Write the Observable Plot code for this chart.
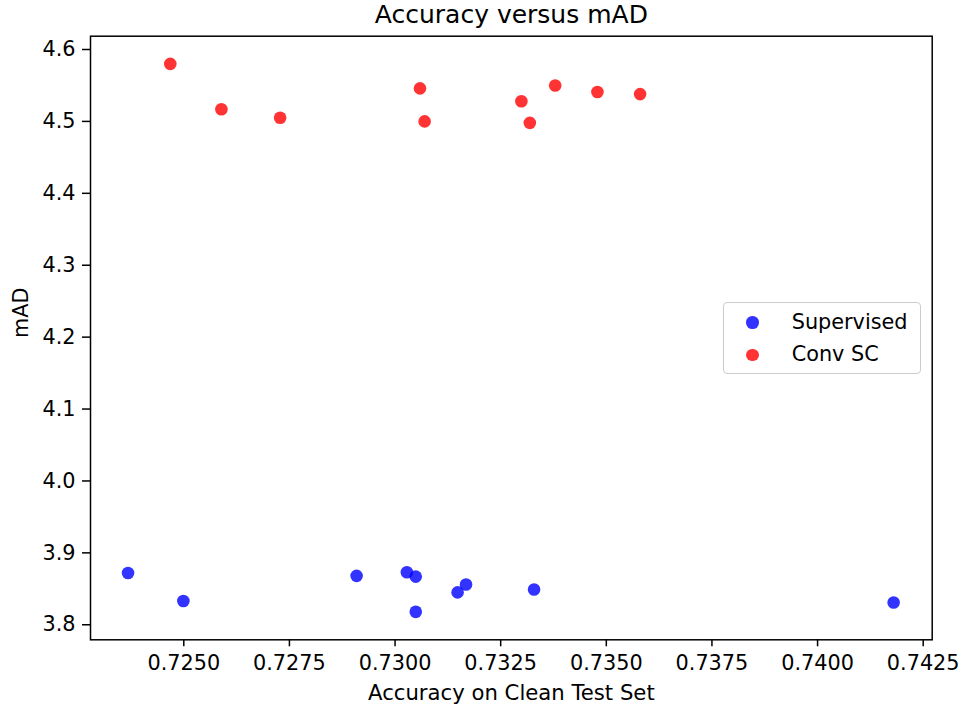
<!DOCTYPE html>
<html>
<head>
<meta charset="utf-8">
<script src="https://cdn.jsdelivr.net/npm/d3@7"></script>
<script src="https://cdn.jsdelivr.net/npm/@observablehq/plot@0.6"></script>
<style>
  body { margin: 0; background: #fff; font-family: "DejaVu Sans", sans-serif; }
  #wrap { position: relative; width: 964px; height: 707px; }
  #legend {
    position: absolute; left: 722.7px; top: 301.7px; width: 196px; height: 70.6px;
    border: 1px solid #cccccc; border-radius: 4px; background: rgba(255,255,255,0.8);
    font-family: "DejaVu Sans", sans-serif; font-size: 20.8px; color: #000;
  }
  .item { position: absolute; left: 0; height: 0; }
  .sw { position: absolute; left: 22.7px; width: 12.6px; height: 12.6px; border-radius: 50%; top: -6.3px; }
  .lab { position: absolute; left: 68px; top: -12.5px; white-space: nowrap; line-height: 25px; }
</style>
</head>
<body>
<div id="wrap"></div>
<script>
// Data
const seriesNames = ["Supervised", "Conv SC"];
const seriesColors = ["blue", "red"];
const supX = [0.72368, 0.72499, 0.72909, 0.73028, 0.73049, 0.73049, 0.73148, 0.73168, 0.73329, 0.74180];
const supY = [3.872, 3.833, 3.868, 3.873, 3.867, 3.818, 3.845, 3.856, 3.849, 3.831];
const convX = [0.72468, 0.72589, 0.72728, 0.73059, 0.73070, 0.73299, 0.73319, 0.73379, 0.73479, 0.73580];
const convY = [4.580, 4.517, 4.505, 4.546, 4.500, 4.528, 4.498, 4.550, 4.541, 4.538];
const xTicks = [0.7250, 0.7275, 0.7300, 0.7325, 0.7350, 0.7375, 0.7400, 0.7425];
const yTicks = [3.8, 3.9, 4.0, 4.1, 4.2, 4.3, 4.4, 4.5, 4.6];
const titleText = "Accuracy versus mAD";
const xLabel = "Accuracy on Clean Test Set";
const yLabel = "mAD";

const rows = [
  ...supX.map((x, i) => ({x, y: supY[i], s: seriesNames[0]})),
  ...convX.map((x, i) => ({x, y: convY[i], s: seriesNames[1]}))
];

const chart = Plot.plot({
  width: 964,
  height: 707,
  marginLeft: 90,
  marginRight: 32.3,
  marginTop: 35.7,
  marginBottom: 67.7,
  style: {fontFamily: "DejaVu Sans, sans-serif", fontSize: "20.8px", color: "#000", background: "#fff"},
  x: {domain: [0.722792, 0.742713]},
  y: {domain: [3.7791, 4.6185]},
  color: {domain: seriesNames, range: seriesColors},
  marks: [
    Plot.dot(rows, {x: "x", y: "y", fill: "s", fillOpacity: 0.8, r: 6.3, stroke: null}),
    Plot.frame({stroke: "#000", strokeWidth: 1.5}),
    Plot.axisX({ticks: xTicks, tickFormat: d3.format(".4f"), tickSize: 7, tickPadding: 8, fontSize: 20.8, label: null, strokeWidth: 1.5}),
    Plot.axisY({ticks: yTicks, tickFormat: d3.format(".1f"), tickSize: 8, tickPadding: 7, fontSize: 20.8, label: null, strokeWidth: 1.5}),
    Plot.text([titleText], {frameAnchor: "top", lineAnchor: "bottom", dy: -13, fontSize: 25, fill: "#000"}),
    Plot.text([xLabel], {frameAnchor: "bottom", lineAnchor: "bottom", dy: 60, fontSize: 21.2, fill: "#000"}),
    Plot.text([yLabel], {frameAnchor: "left", rotate: -90, lineAnchor: "middle", dx: -69, fontSize: 20.8, fill: "#000"})
  ]
});

const wrap = document.getElementById("wrap");
wrap.appendChild(chart);

// Legend (HTML overlay)
const legend = document.createElement("div");
legend.id = "legend";
const rowY = [20, 52.3];
seriesNames.forEach((name, i) => {
  const item = document.createElement("div");
  item.className = "item";
  item.style.top = rowY[i] + "px";
  const sw = document.createElement("div");
  sw.className = "sw";
  sw.style.background = seriesColors[i];
  sw.style.opacity = 0.8;
  const lab = document.createElement("div");
  lab.className = "lab";
  lab.textContent = name;
  item.appendChild(sw);
  item.appendChild(lab);
  legend.appendChild(item);
});
wrap.appendChild(legend);
</script>
</body>
</html>
